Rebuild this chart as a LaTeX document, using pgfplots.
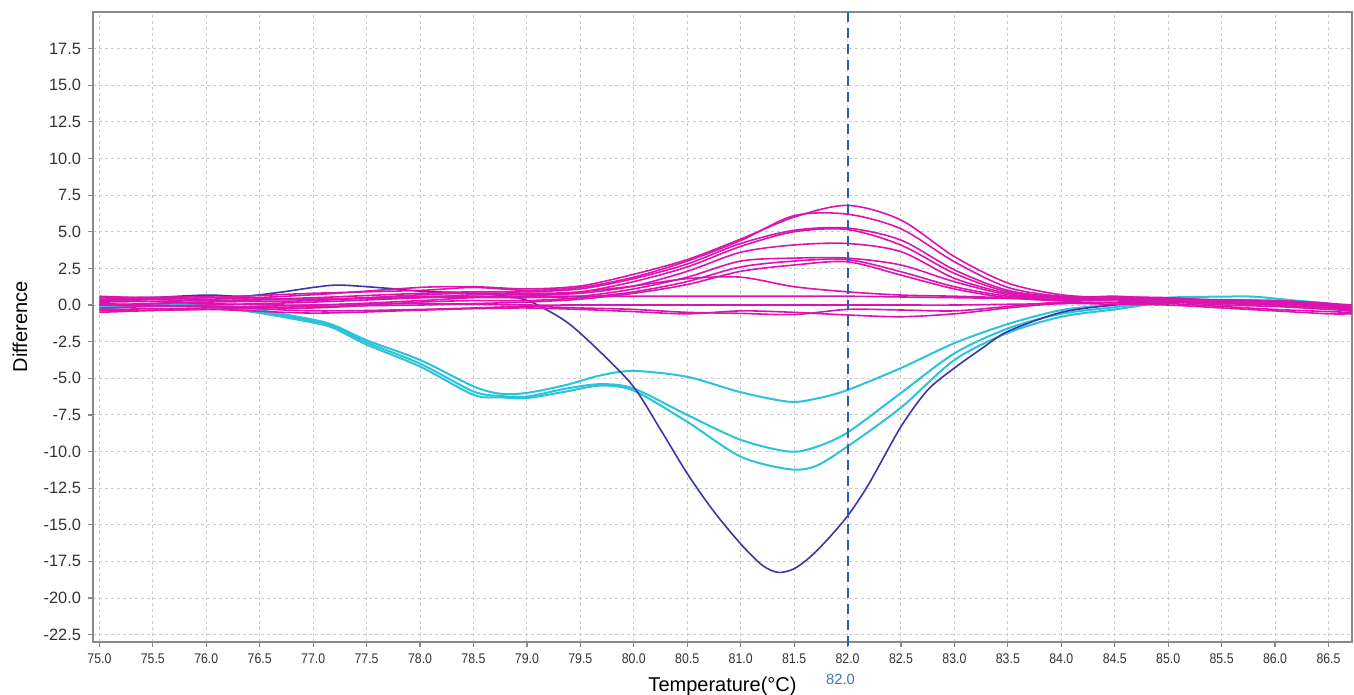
\documentclass[border=0pt]{standalone}
\usepackage{fontspec}
\setmainfont{Liberation Sans}
\usepackage{pgfplots}
\usepackage{pgfplotstable}
\pgfplotsset{compat=1.18}

\definecolor{mag}{HTML}{DB14B0}
\definecolor{cyn}{HTML}{2BC3D9}
\definecolor{navy}{HTML}{3B36A6}
\definecolor{cursorblue}{HTML}{2A5FB5}
\definecolor{cursortext}{HTML}{3E78B2}
\definecolor{gridc}{HTML}{CCCCCC}
\definecolor{framec}{HTML}{8A8A8A}

% magenta (positive) curves, one column per sample
\pgfplotstableread{
T     m1    m2    m3    m4    m5    m6    m7    m8    m9    m10   m11   m12   m13
75.0  0.6   0.3   0.5   0.0  -0.2   0.4   0.1  -0.4   0.2   0.5  -0.3   0.0  -0.5
76.0  0.4   0.5   0.3   0.2   0.0   0.1  -0.1  -0.3   0.3   0.55 -0.2  -0.1  -0.3
77.0  0.7   0.8   0.5   0.3   0.2   0.0  -0.2  -0.1   0.4   0.4   0.0  -0.4  -0.55
78.0  1.2   1.0   0.8   0.7   0.5   0.3   0.2   0.0   0.6   0.5   0.1  -0.3  -0.35
78.5  1.25  1.2   0.9   0.8   0.7   0.5   0.3   0.1   0.6   0.55  0.05 -0.2  -0.25
79.0  1.1   1.0   0.9   0.8   0.7   0.5   0.3   0.2   0.6   0.6   0.0  -0.1  -0.2
79.5  1.3   1.2   1.1   0.9   0.8   0.6   0.5   0.4   0.9   0.6   0.0  -0.2  -0.3
80.0  2.1   1.9   1.8   1.6   1.3   1.1   0.9   0.8   1.3   0.6   0.0  -0.3  -0.45
80.5  3.1   3.0   2.8   2.6   2.3   1.9   1.6   1.4   1.8   0.6   0.0  -0.5  -0.6
81.0  4.5   4.4   4.2   4.0   3.6   3.0   2.6   2.3   1.9   0.6   0.0  -0.57 -0.4
81.5  6.0   6.1   5.1   5.0   4.1   3.2   3.0   2.73  1.25  0.6   0.0  -0.65 -0.5
82.0  6.8   6.2   5.25  5.15  4.2   3.2   3.1   2.95  0.9   0.6   0.0  -0.3  -0.68
82.5  5.8   5.2   4.43  4.09  3.64  2.73  2.27  2.04  0.68  0.55  0.0  -0.34 -0.8
83.0  3.3   2.95  2.4   2.16  1.82  1.59  1.25  1.1   0.6   0.5   0.0  -0.4  -0.6
83.5  1.5   1.2   1.0   0.9   0.8   0.7   0.6   0.5   0.5   0.45  0.05 -0.1  -0.2
84.0  0.7   0.6   0.55  0.5   0.45  0.4   0.35  0.3   0.4   0.4   0.1   0.2   0.1
84.5  0.5   0.55  0.5   0.6   0.45  0.5   0.4   0.35  0.4   0.35  0.2   0.15  0.05
85.0  0.45  0.5   0.4   0.4   0.3   0.35  0.3   0.25  0.3   0.3   0.2   0.1   0.0
85.5  0.35  0.3   0.2   0.3   0.1   0.2   0.2   0.1   0.15  0.2   0.0  -0.1  -0.2
86.0  0.3   0.25  0.2   0.3   0.1   0.15  0.2   0.0   0.1   0.0  -0.1  -0.3  -0.4
86.5  0.1   0.0   0.05  0.1  -0.1   0.0   0.1  -0.2  -0.1  -0.2  -0.3  -0.45 -0.6
86.72 -0.2 -0.3  -0.2  -0.1  -0.4  -0.3   0.0  -0.4  -0.3  -0.4  -0.4  -0.5  -0.6
}\magdata

% cyan (negative) curves
\pgfplotstableread{
T      a      b      c
75.0  -0.25  -0.1    0.0
75.5   0.0    0.05  -0.05
76.0   0.1    0.0   -0.1
76.5  -0.35  -0.45  -0.55
77.0  -1.0   -1.1   -1.2
77.2  -1.4   -1.5   -1.6
77.5  -2.4   -2.55  -2.7
78.0  -3.75  -4.0   -4.2
78.5  -5.55  -5.9   -6.13
78.75 -6.05  -6.2   -6.3
79.0  -6.0   -6.25  -6.35
79.37 -5.45  -5.7   -5.9
79.69 -4.8   -5.4   -5.5
80.0  -4.5   -5.7   -5.85
80.5  -4.9   -7.5   -7.97
81.0  -5.95  -9.2   -10.35
81.45 -6.6   -10.0  -11.2
81.7  -6.4   -9.7   -11.0
82.0  -5.8   -8.7   -9.65
82.5  -4.3   -6.0   -7.0
83.0  -2.6   -3.3   -3.75
83.5  -1.3   -1.6   -1.9
84.0  -0.35  -0.6   -0.8
84.5   0.05  -0.15  -0.3
85.0   0.5    0.3    0.2
85.5   0.57   0.35   0.25
85.8   0.57   0.3    0.2
86.2   0.3    0.15   0.1
86.5   0.1    0.0    0.0
86.72 -0.3   -0.3   -0.3
}\cyandata

% dark blue curve
\pgfplotstableread{
T      d
75.0   0.25
75.5   0.5
76.0   0.68
76.35  0.6
76.72  0.9
77.0   1.2
77.25  1.36
77.7   1.14
78.0   0.95
78.5   0.8
78.85  0.57
79.06  0.14
79.38 -1.2
79.7  -3.3
80.0  -5.6
80.25 -8.5
80.5  -11.5
80.75 -14.1
81.0  -16.3
81.2  -17.75
81.35 -18.25
81.5  -18.0
81.65 -17.2
81.8  -16.1
82.0  -14.4
82.2  -12.2
82.5  -8.3
82.75 -5.8
83.0  -4.3
83.25 -3.0
83.5  -1.8
84.0  -0.5
84.5   0.0
85.0   0.3
85.5   0.35
86.0   0.2
86.5   0.0
86.72 -0.3
}\navydata

\begin{document}
\begin{tikzpicture}
\begin{axis}[
  scale only axis, width=629.5pt, height=315pt,
  xmin=74.94, xmax=86.72, ymin=-23, ymax=20,
  xtick={75,75.5,76,76.5,77,77.5,78,78.5,79,79.5,80,80.5,81,81.5,82,82.5,83,83.5,84,84.5,85,85.5,86,86.5},
  xticklabels={75.0,75.5,76.0,76.5,77.0,77.5,78.0,78.5,79.0,79.5,80.0,80.5,81.0,81.5,82.0,82.5,83.0,83.5,84.0,84.5,85.0,85.5,86.0,86.5},
  ytick={-22.5,-20,-17.5,-15,-12.5,-10,-7.5,-5,-2.5,0,2.5,5,7.5,10,12.5,15,17.5},
  yticklabels={-22.5,-20.0,-17.5,-15.0,-12.5,-10.0,-7.5,-5.0,-2.5,0.0,2.5,5.0,7.5,10.0,12.5,15.0,17.5},
  grid=major,
  major grid style={gridc, dash pattern=on 1.5pt off 1.5pt, line width=0.5pt},
  axis line style={framec, line width=0.9pt},
  tick align=outside, major tick length=2.5pt,
  tick style={framec, line width=0.6pt},
  xtick pos=lower, ytick pos=left,
  xticklabel style={font=\fontsize{7}{8}\selectfont, text=black!80, xscale=0.88},
  yticklabel style={font=\fontsize{8.2}{9}\selectfont, text=black!80},
  xlabel={Temperature(°C)}, ylabel={Difference},
  label style={font=\fontsize{10.3}{12}\selectfont},
  every axis x label/.style={at={(axis description cs:0.5,0)}, anchor=center, yshift=-22pt},
  every axis y label/.style={at={(axis description cs:0,0.5)}, rotate=90, anchor=center, yshift=36.5pt},
  every axis plot/.append style={smooth, tension=0.5},
]
\foreach \c in {a,b,c} {
  \addplot[cyn, line width=1pt] table[x=T, y=\c] {\cyandata};
}
\addplot[navy, line width=0.8pt] table[x=T, y=d] {\navydata};
\pgfplotsinvokeforeach{1,...,13}{
  \addplot[mag, line width=0.8pt] table[x=T, y=m#1] {\magdata};
}
\coordinate (ctop) at (axis cs:82,20);
\coordinate (cbot) at (axis cs:82,-23);
\end{axis}
\draw[draw=cursorblue, line width=1pt, dash pattern=on 5pt off 3pt] (ctop) -- ([yshift=-3pt]cbot);
\node[text=cursortext, font=\fontsize{7.4}{8}\selectfont] at ([xshift=-3.5pt, yshift=-18.5pt]cbot) {82.0};
\pgfresetboundingbox
\path (-46.5pt,-26.5pt) rectangle (630.5pt,321pt);
\end{tikzpicture}
\end{document}
